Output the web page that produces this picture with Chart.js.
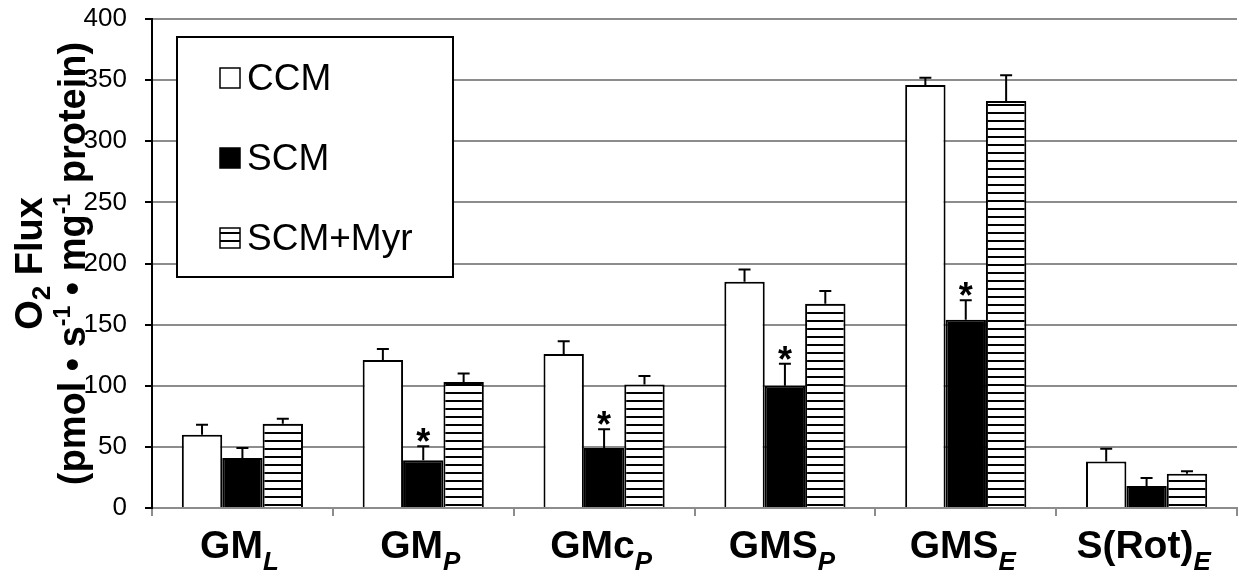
<!DOCTYPE html>
<html>
<head>
<meta charset="utf-8">
<script src="https://cdn.jsdelivr.net/npm/chart.js@4"></script>
<style>
  body { margin: 0; background: #fff; }
  canvas { display: block; }
</style>
</head>
<body>
<canvas id="my_chart" width="1239" height="578"></canvas>
<script>
// categories: main part of label + italic subscript
var cat_main = ['GM', 'GM', 'GMc', 'GMS', 'GMS', 'S(Rot)']
var cat_sub = ['L', 'P', 'P', 'P', 'E', 'E']

var ccm_vals = [60, 121, 126, 185, 346, 38]
var ccm_err = [8, 9, 10.5, 10, 6, 10.5]
var scm_vals = [41, 39, 49, 100, 154, 18]
var scm_err = [8, 11.5, 15.5, 18, 16, 6.5]
var myr_vals = [69, 103, 101, 167, 333, 28]
var myr_err = [4, 7, 7, 10.5, 21, 2]
var scm_sig = [false, true, true, true, true, false]

var y_ticks = [0, 50, 100, 150, 200, 250, 300, 350, 400]

var FONT = '"Liberation Sans", Arial, sans-serif'

// horizontal stripe pattern for SCM+Myr
var pc = document.createElement('canvas')
pc.width = 8; pc.height = 8
var pctx = pc.getContext('2d')
pctx.fillStyle = '#fff'
pctx.fillRect(0, 0, 8, 8)
pctx.fillStyle = '#000'
pctx.fillRect(0, 0, 8, 2)

ctx = document.getElementById('my_chart')
var stripes = ctx.getContext('2d').createPattern(pc, 'repeat')

function font(size, bold, italic) {
  return (italic ? 'italic ' : '') + (bold ? 'bold ' : '') + size + 'px ' + FONT
}

// draw a list of text runs centred on x, baseline y
function drawRuns(c, runs, x, y) {
  var total = 0
  runs.forEach(r => { c.font = font(r.size, r.bold, r.italic); r.w = c.measureText(r.t).width; total += r.w })
  var cx = x - total / 2
  c.textAlign = 'left'
  c.textBaseline = 'alphabetic'
  runs.forEach(r => {
    c.font = font(r.size, r.bold, r.italic)
    c.fillText(r.t, cx, y + (r.dy || 0))
    cx += r.w
  })
}

var errPlugin = {
  id: 'errbars',
  afterDatasetsDraw(chart) {
    var c = chart.ctx
    var ys = chart.scales.y
    c.save()
    c.strokeStyle = '#000'
    c.fillStyle = '#000'
    c.lineWidth = 2
    chart.data.datasets.forEach((ds, i) => {
      var meta = chart.getDatasetMeta(i)
      meta.data.forEach((bar, j) => {
        var top = ys.getPixelForValue(ds.data[j] + ds.err[j])
        c.beginPath()
        c.moveTo(bar.x, bar.y)
        c.lineTo(bar.x, top)
        c.moveTo(bar.x - 6, top)
        c.lineTo(bar.x + 6, top)
        c.stroke()
        if (ds.sig && ds.sig[j]) {
          c.font = font(36, true)
          c.textAlign = 'center'
          c.textBaseline = 'alphabetic'
          c.fillText('*', bar.x, top + 8)
        }
      })
    })
    c.restore()
  },
  afterDraw(chart) {
    var c = chart.ctx
    var xs = chart.scales.x
    c.save()
    c.fillStyle = '#000'
    // x labels
    cat_main.forEach((m, i) => {
      var x = xs.getPixelForValue(i)
      drawRuns(c, [
        {t: m, size: 39, bold: true},
        {t: cat_sub[i], size: 26, bold: true, italic: true, dy: 12}
      ], x - 3, 558)
    })
    // y title
    var cy = (chart.chartArea.top + chart.chartArea.bottom) / 2
    c.save()
    c.translate(42, cy)
    c.rotate(-Math.PI / 2)
    drawRuns(c, [
      {t: 'O', size: 38, bold: true},
      {t: '2', size: 26, bold: true, dy: 8},
      {t: ' Flux', size: 38, bold: true}
    ], 0, 0)
    c.restore()
    c.save()
    c.translate(85, cy)
    c.rotate(-Math.PI / 2)
    drawRuns(c, [
      {t: '(pmol \u2022 s', size: 38, bold: true},
      {t: '-1', size: 23, bold: true, dy: -15},
      {t: ' \u2022 mg', size: 38, bold: true},
      {t: '-1', size: 23, bold: true, dy: -15},
      {t: ' protein)', size: 38, bold: true}
    ], 0, 0)
    c.restore()
    // legend box
    c.fillStyle = '#fff'
    c.fillRect(177, 37, 276, 240)
    c.strokeStyle = '#000'
    c.lineWidth = 2
    c.strokeRect(177, 37, 276, 240)
    chart.data.datasets.forEach((ds, i) => {
      var ly = 78 + i * 80
      c.fillStyle = ds.backgroundColor
      c.fillRect(220, ly - 10, 20, 20)
      c.lineWidth = 1.5
      c.strokeStyle = '#000'
      c.strokeRect(220, ly - 10, 20, 20)
      c.fillStyle = '#000'
      c.font = font(37)
      c.textAlign = 'left'
      c.textBaseline = 'middle'
      c.fillText(ds.label, 247, ly + 2)
    })
    c.restore()
  }
}

my_chart = new Chart(ctx, {
  type: 'bar',
  data: {
    labels: cat_main.map((m, i) => m + '_' + cat_sub[i]),
    datasets: [
      {label: 'CCM', data: ccm_vals, err: ccm_err, backgroundColor: '#fff', borderColor: '#000', borderWidth: 2},
      {label: 'SCM', data: scm_vals, err: scm_err, sig: scm_sig, backgroundColor: '#000', borderColor: '#000', borderWidth: 2},
      {label: 'SCM+Myr', data: myr_vals, err: myr_err, backgroundColor: stripes, borderColor: '#000', borderWidth: 2}
    ]
  },
  options: {
    responsive: false,
    animation: false,
    devicePixelRatio: 1,
    layout: {padding: {top: 19, right: 2, left: 0, bottom: 0}},
    datasets: {bar: {categoryPercentage: 0.67, barPercentage: 1}},
    plugins: {legend: {display: false}, tooltip: {enabled: false}},
    scales: {
      x: {
        ticks: {display: false},
        grid: {drawOnChartArea: false, offset: true, tickLength: 8, color: '#8c8c8c', lineWidth: 2},
        border: {color: '#8c8c8c', width: 2},
        afterFit: s => { s.height = 70; s.paddingLeft = 0; s.paddingRight = 0 }
      },
      y: {
        min: 0, max: 400,
        afterBuildTicks: s => { s.ticks = y_ticks.map(v => ({value: v})) },
        ticks: {color: '#000', font: {family: FONT, size: 26}, padding: 18},
        grid: {color: '#8c8c8c', lineWidth: 2, tickColor: '#000', tickLength: 7},
        border: {color: '#000', width: 2},
        afterFit: s => { s.width = 152; s.paddingTop = 0; s.paddingBottom = 0 }
      }
    }
  },
  plugins: [errPlugin]
})
</script>
</body>
</html>
